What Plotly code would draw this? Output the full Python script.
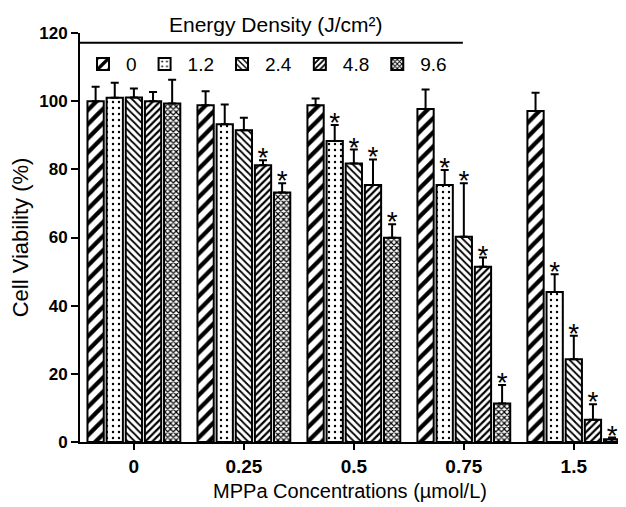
import plotly.graph_objects as go

concentrations = ["0", "0.25", "0.5", "0.75", "1.5"]
energy_levels = ["0", "1.2", "2.4", "4.8", "9.6"]

viability = {
    "0":   [100.0, 98.8, 98.8, 97.7, 97.1],
    "1.2": [101.0, 93.2, 88.3, 75.4, 44.0],
    "2.4": [101.1, 91.5, 81.7, 60.2, 24.3],
    "4.8": [100.0, 81.2, 75.4, 51.4, 6.5],
    "9.6": [99.3, 73.2, 59.9, 11.3, 0.8],
}
errors = {
    "0":   [4.2, 4.1, 2.0, 5.7, 5.4],
    "1.2": [4.4, 5.8, 4.7, 4.4, 5.2],
    "2.4": [2.6, 3.6, 4.1, 15.7, 6.9],
    "4.8": [2.7, 1.5, 7.5, 2.7, 4.6],
    "9.6": [7.0, 2.7, 4.0, 5.4, 0.5],
}
significance = {
    "0":   ["", "", "", "", ""],
    "1.2": ["", "", "*", "*", "*"],
    "2.4": ["", "", "*", "*", "*"],
    "4.8": ["", "*", "*", "*", "*"],
    "9.6": ["", "*", "*", "*", "*"],
}

patterns = {
    "0":   dict(shape="/", size=10, solidity=0.42),
    "1.2": dict(shape=".", size=6, solidity=0.12),
    "2.4": dict(shape="\\", size=5, solidity=0.35),
    "4.8": dict(shape="/", size=5, solidity=0.45),
    "9.6": dict(shape="x", size=4, solidity=0.5),
}

FONT = "Liberation Sans, Arial, sans-serif"
fig = go.Figure()

for e in energy_levels:
    p = patterns[e]
    fig.add_trace(go.Bar(
        x=concentrations, y=viability[e], name=e, offsetgroup=e,
        marker=dict(color="white",
                    line=dict(color="black", width=2),
                    pattern=dict(shape=p["shape"], size=p["size"], solidity=p["solidity"],
                                 fgcolor="black", bgcolor="white", fillmode="replace")),
        error_y=dict(type="data", array=errors[e], arrayminus=[0] * len(errors[e]),
                     symmetric=False, color="black", thickness=2, width=4),
    ))

for e in energy_levels:
    tops = [v + s for v, s in zip(viability[e], errors[e])]
    fig.add_trace(go.Scatter(
        x=concentrations, y=tops, mode="text", text=significance[e],
        textposition="middle center", offsetgroup=e, showlegend=False,
        textfont=dict(family=FONT, size=28, color="black"), hoverinfo="skip",
    ))

# page body adds an 8px offset; compensate so the plot area sits at x 80-620, y 33-442
fig.update_layout(
    width=618, height=499,
    margin=dict(l=72, r=6, t=25, b=65),
    paper_bgcolor="white", plot_bgcolor="white",
    barmode="group", bargap=0.13, bargroupgap=0.15,
    scattermode="group", scattergap=0.13,
    font=dict(family=FONT, color="black"),
    showlegend=True,
    legend=dict(orientation="h", x=0.0, xanchor="left", y=0.924, yanchor="middle",
                font=dict(family=FONT, size=19, color="black"),
                bgcolor="rgba(0,0,0,0)", traceorder="normal", itemwidth=36),
    xaxis=dict(range=[-0.49, 4.42], showline=True, linecolor="black", linewidth=2,
               ticks="outside", ticklen=6, tickwidth=2, tickcolor="black",
               tickfont=dict(family=FONT, size=19, color="black", weight="bold"),
               title=dict(text="MPPa Concentrations (µmol/L)", standoff=8,
                          font=dict(family=FONT, size=20, color="black")),
               showgrid=False, zeroline=False),
    yaxis=dict(range=[0, 120], dtick=20, showline=True, linecolor="black", linewidth=2,
               ticks="outside", ticklen=7, tickwidth=2, tickcolor="black",
               tickfont=dict(family=FONT, size=17, color="black", weight="bold"),
               title=dict(text="Cell Viability (%)", standoff=6,
                          font=dict(family=FONT, size=22, color="black")),
               showgrid=False, zeroline=False),
)

fig.add_annotation(text="Energy Density (J/cm²)", xref="paper", yref="paper",
                   x=0.363, y=1.0, xanchor="center", yanchor="bottom", yshift=-5,
                   showarrow=False, font=dict(family=FONT, size=21, color="black"))
fig.add_shape(type="line", xref="paper", yref="paper", x0=0.0, x1=0.709, y0=0.976, y1=0.976,
              line=dict(color="black", width=2))

fig.write_html("out.html")
